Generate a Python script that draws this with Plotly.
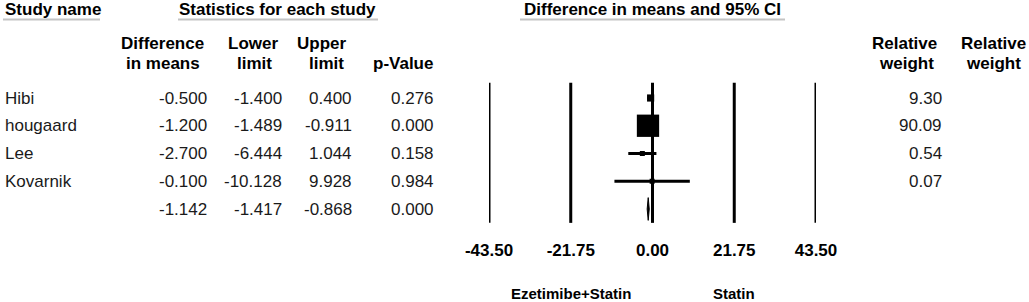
import plotly.graph_objects as go
import numpy as np

studies = ["Hibi", "hougaard", "Lee", "Kovarnik"]
diff = [-0.500, -1.200, -2.700, -0.100]
lower = [-1.400, -1.489, -6.444, -10.128]
upper = [0.400, -0.911, 1.044, 9.928]
pval = [0.276, 0.000, 0.158, 0.984]
weights = [9.30, 90.09, 0.54, 0.07]
summary = {"diff": -1.142, "lower": -1.417, "upper": -0.868, "p": 0.000}
ticks = [-43.50, -21.75, 0.00, 21.75, 43.50]
tick_labels = ["-43.50", "-21.75", "0.00", "21.75", "43.50"]
favours = ["Ezetimibe+Statin", "Statin"]

W, H = 1029, 302
FONT = "Arial, Liberation Sans, sans-serif"
TXT = "#1a1a1a"
ROW0, ROWSP = 98.0, 27.75  # pixel of first row, row spacing


def px(x):
    return x / W


def py(y):
    return 1 - y / H


fig = go.Figure()

rows = list(range(len(studies)))
srow = len(studies)

# vertical reference lines at tick values
for t in ticks:
    fig.add_trace(go.Scatter(x=[t, t], y=[-0.55, srow + 0.5], mode="lines",
                             line=dict(color="black", width=3), hoverinfo="skip",
                             showlegend=False))

# CI lines
for r, lo, hi in zip(rows, lower, upper):
    fig.add_trace(go.Scatter(x=[lo, hi], y=[r, r], mode="lines",
                             line=dict(color="black", width=3), hoverinfo="skip",
                             showlegend=False))

# point estimates
sizes = [max(5.0, 2.35 * np.sqrt(w)) for w in weights]
fig.add_trace(go.Scatter(x=diff, y=rows, mode="markers",
                         marker=dict(symbol="square", size=sizes, color="black",
                                     opacity=1, line=dict(width=0)),
                         showlegend=False, hoverinfo="skip"))

# summary diamond
dh = 0.41
fig.add_trace(go.Scatter(
    x=[summary["lower"], summary["diff"], summary["upper"], summary["diff"], summary["lower"]],
    y=[srow, srow - dh, srow, srow + dh, srow],
    mode="lines", fill="toself", fillcolor="black",
    line=dict(color="black", width=1), showlegend=False, hoverinfo="skip"))

ann = []


def add(text, x, y, xanchor="center", bold=False, size=17, xref="paper", yref="y",
        color=TXT, align="center"):
    ann.append(dict(text=text, x=x, y=y, xref=xref, yref=yref, xanchor=xanchor,
                    yanchor="middle", showarrow=False, align=align,
                    font=dict(family=FONT, size=size, color=color,
                              weight="bold" if bold else "normal")))


# top headers
add("Study name", px(3), py(10), xanchor="left", bold=True, yref="paper", color="black")
add("Statistics for each study", px(277), py(10), bold=True, yref="paper", color="black")
add("Difference in means and 95% CI", px(652), py(10), bold=True, yref="paper", color="black")

# underlines
for x0, x1 in [(3, 100), (178, 378), (520, 785)]:
    fig.add_shape(type="line", xref="paper", yref="paper", x0=px(x0), x1=px(x1),
                  y0=py(19.5), y1=py(19.5), line=dict(color="#c4c4c4", width=2))

# column headers
add("Difference", px(162), py(44), bold=True, yref="paper", color="black")
add("in means", px(163), py(64), bold=True, yref="paper", color="black")
add("Lower", px(253), py(44), bold=True, yref="paper", color="black")
add("limit", px(254), py(64), bold=True, yref="paper", color="black")
add("Upper", px(322), py(44), bold=True, yref="paper", color="black")
add("limit", px(326), py(64), bold=True, yref="paper", color="black")
add("p-Value", px(403), py(64), bold=True, yref="paper", color="black")
add("Relative", px(904), py(44), bold=True, yref="paper", color="black")
add("weight", px(906), py(64), bold=True, yref="paper", color="black")
add("Relative", px(993), py(44), bold=True, yref="paper", color="black")
add("weight", px(993), py(64), bold=True, yref="paper", color="black")

# rows
for r, s, d, lo, hi, p, w in zip(rows, studies, diff, lower, upper, pval, weights):
    add(s, px(3), r, xanchor="left")
    add(f"{d:.3f}", px(209), r, xanchor="right")
    add(f"{lo:.3f}", px(284), r, xanchor="right")
    add(f"{hi:.3f}", px(354), r, xanchor="right")
    add(f"{p:.3f}", px(436), r, xanchor="right")
    add(f"{w:.2f}", px(944), r, xanchor="right")

add(f"{summary['diff']:.3f}", px(209), srow, xanchor="right")
add(f"{summary['lower']:.3f}", px(284), srow, xanchor="right")
add(f"{summary['upper']:.3f}", px(354), srow, xanchor="right")
add(f"{summary['p']:.3f}", px(436), srow, xanchor="right")

# favours labels
add(favours[0], ticks[1], py(293), xref="x", yref="paper", bold=True, size=15, color="black")
add(favours[1], ticks[3], py(293), xref="x", yref="paper", bold=True, size=15, color="black")

fig.update_layout(
    width=W, height=H, margin=dict(l=0, r=0, t=0, b=0, autoexpand=False),
    paper_bgcolor="white", plot_bgcolor="white",
    annotations=ann, showlegend=False,
    xaxis=dict(domain=[489 / W, 816 / W], range=[-43.5, 43.5], tickvals=ticks,
               ticktext=tick_labels, showgrid=False, zeroline=False, showline=False,
               ticks="", anchor="free", position=py(238), automargin=False,
               tickfont=dict(family=FONT, size=17, color="black", weight="bold")),
    yaxis=dict(domain=[0, 1], range=[(H - ROW0) / ROWSP, -ROW0 / ROWSP],
               visible=False, showgrid=False, zeroline=False, automargin=False),
)

fig.write_html("out.html", config={"displayModeBar": False},
               post_script="document.body.style.margin='0';document.body.style.overflow='hidden';")
